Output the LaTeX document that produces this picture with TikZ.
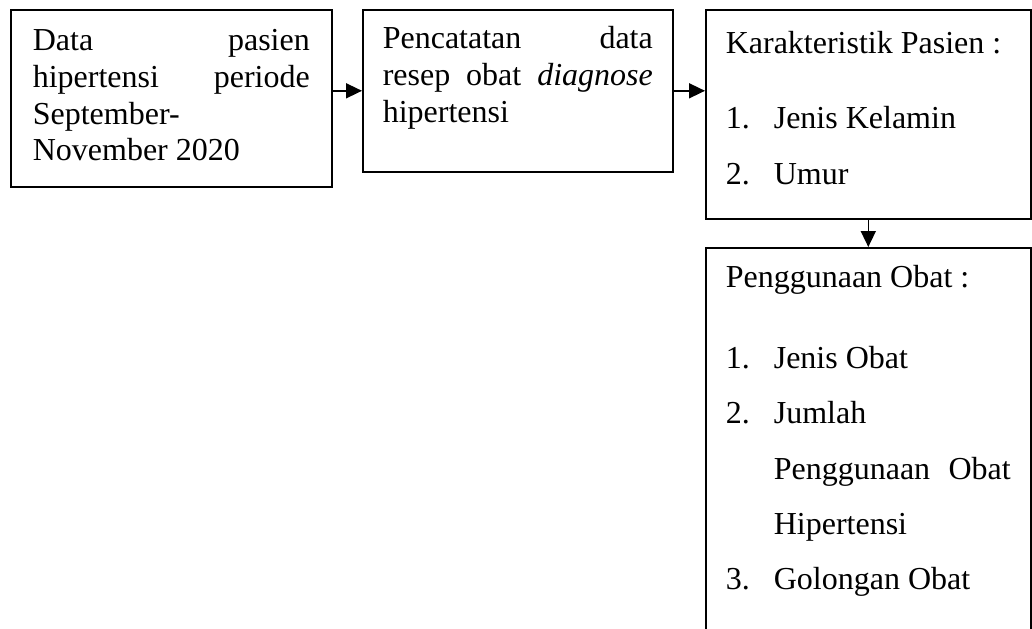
\documentclass[tikz,border=0pt]{standalone}
\usepackage{fontspec}
\setmainfont{Liberation Serif}
\usetikzlibrary{arrows.meta}
\newcommand{\butir}[2]{\makebox[24pt][l]{#1}#2}
\tikzset{
  kotak/.style={draw, line width=0.8pt, anchor=north west, inner ysep=0pt, inner xsep=10pt, font=\fontsize{16}{18.3}\selectfont},
  panah/.style={-{Triangle[length=8pt,width=7.5pt]}, line width=0.8pt}
}

\begin{document}
\begin{tikzpicture}[x=0.5pt,y=-0.5pt]
    % Page frame
    \useasboundingbox (0,0) rectangle (1032,628);
    \clip (0,0) rectangle (1032,628);

    % Draw the boxes
    \node[kotak, inner xsep=11pt] (data) at (10,9) {\parbox[c][88.5pt][t]{138.5pt}{%
      \rule{0pt}{20.5pt}\makebox[\linewidth]{Data\hfill pasien}\\
      \makebox[\linewidth]{hipertensi\hfill periode}\\
      September-\\
      November 2020}};
    \node[kotak] (catat) at (362,9) {\parbox[c][81pt][t]{135pt}{%
      \rule{0pt}{19.5pt}\makebox[\linewidth][s]{Pencatatan data}\\
      \makebox[\linewidth][s]{resep obat \textit{diagnose}}\\
      hipertensi}};
    \node[kotak] (karakter) at (705,9) {\parbox[c][104.5pt][t]{142.5pt}{%
      \fontsize{16}{28}\selectfont
      \rule{0pt}{22pt}Karakteristik Pasien :\\[9.5pt]
      \butir{1.}{Jenis Kelamin}\\
      \butir{2.}{Umur}}};
    \node[kotak] (obat) at (705,247) {\parbox[c][200pt][t]{142.5pt}{%
      \fontsize{16}{27.7}\selectfont
      \rule{0pt}{20pt}Penggunaan Obat :\\[12.5pt]
      \butir{1.}{Jenis Obat}\\
      \butir{2.}{Jumlah}\\
      \hspace*{24pt}\makebox[118.5pt][s]{Penggunaan Obat}\\
      \hspace*{24pt}Hipertensi\\
      \butir{3.}{Golongan Obat}}};

    % Draw the arrows
    \draw[panah] (data.east |- catat.west) -- (catat.west);
    \draw[panah] (catat.east) -- (karakter.west |- catat.east);
    \draw[panah] (karakter.south) -- (obat.north);
\end{tikzpicture}
\end{document}
